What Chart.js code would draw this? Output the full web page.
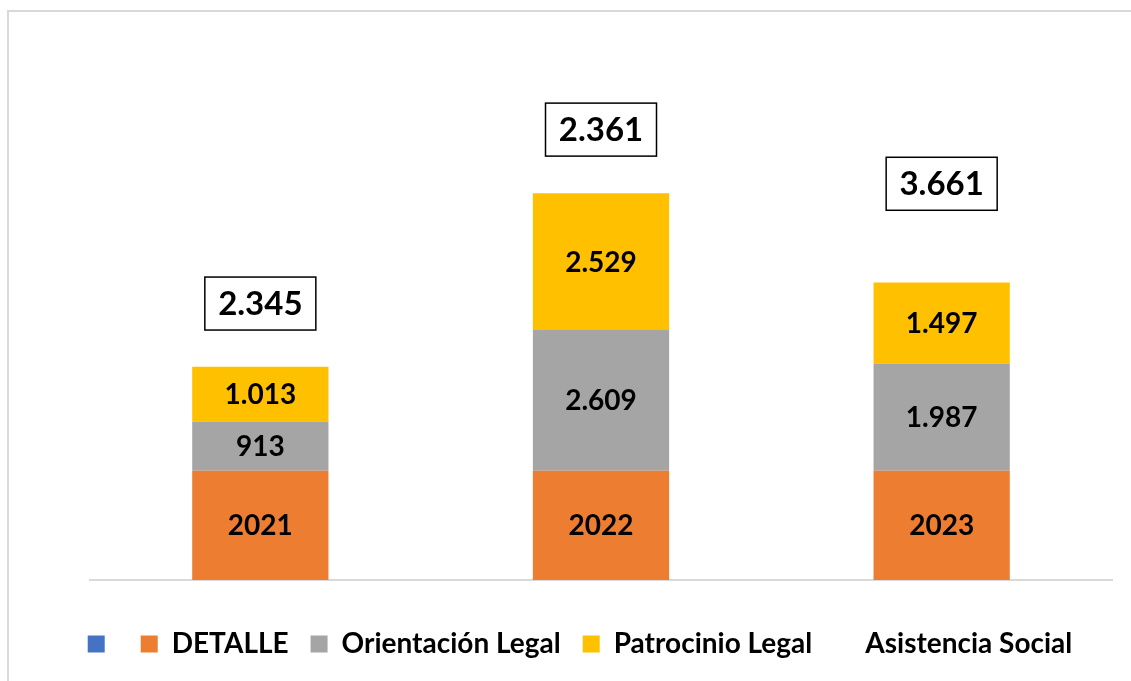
<!DOCTYPE html>
<html>
<head>
<meta charset="utf-8">
<script src="https://cdn.jsdelivr.net/npm/chart.js@4"></script>
<style>
  html, body { margin: 0; padding: 0; background: #fff; }
  #wrap { position: relative; width: 1131px; height: 681px; }
  #frame { position: absolute; left: 7px; top: 10px; right: 0; bottom: 0;
           border-left: 2px solid #d9d9d9; border-top: 2px solid #d9d9d9; }
  canvas { position: absolute; left: 0; top: 0; }
</style>
</head>
<body>
<div id="wrap">
  <div id="frame"></div>
  <canvas id="chart" width="1131" height="681"></canvas>
</div>
<script>
// Chart data
const years = ['2021', '2022', '2023'];
const blank = [0, 0, 0];
const detalle = [2021, 2022, 2023];
const orientacionLegal = [913, 2609, 1987];
const patrocinioLegal = [1013, 2529, 1497];
const asistenciaSocial = [2345, 2361, 3661];

const FONT = 'Lato, "Liberation Sans", sans-serif';

// Spanish style thousands separator: 2345 -> 2.345
function fmt(v) {
  return String(v).replace(/\B(?=(\d{3})+(?!\d))/g, '.');
}

// Draw labels inside the bars and the boxed totals
const barLabels = {
  id: 'barLabels',
  afterDatasetsDraw(chart) {
    const ctx = chart.ctx;
    ctx.save();
    ctx.textAlign = 'center';
    ctx.textBaseline = 'middle';
    chart.data.datasets.forEach((ds, i) => {
      if (i === 0) return;
      const meta = chart.getDatasetMeta(i);
      meta.data.forEach((bar, j) => {
        const v = ds.data[j];
        const cy = (bar.y + bar.base) / 2;
        if (i === 4) {
          const w = 111, h = 53;
          ctx.fillStyle = '#ffffff';
          ctx.fillRect(bar.x - w / 2, cy - h / 2, w, h);
          ctx.strokeStyle = '#000000';
          ctx.lineWidth = 1.5;
          ctx.strokeRect(bar.x - w / 2, cy - h / 2, w, h);
          ctx.font = 'bold 33px ' + FONT;
          ctx.fillStyle = '#000000';
          ctx.fillText(fmt(v), bar.x, cy + 1);
        } else {
          ctx.font = 'bold 28px ' + FONT;
          ctx.fillStyle = '#000000';
          ctx.fillText(i === 1 ? String(v) : fmt(v), bar.x, cy + 1);
        }
      });
    });
    ctx.restore();
  }
};

new Chart(document.getElementById('chart'), {
  type: 'bar',
  data: {
    labels: years,
    datasets: [
      { label: '', data: blank, backgroundColor: '#4472C4' },
      { label: 'DETALLE', data: detalle, backgroundColor: '#ED7D31' },
      { label: 'Orientación Legal', data: orientacionLegal, backgroundColor: '#A5A5A5' },
      { label: 'Patrocinio Legal', data: patrocinioLegal, backgroundColor: '#FFC000' },
      { label: 'Asistencia Social', data: asistenciaSocial, backgroundColor: 'rgba(0,0,0,0)' }
    ]
  },
  options: {
    responsive: false,
    animation: false,
    layout: { padding: { left: 48, right: 19, top: 40, bottom: 13 } },
    datasets: { bar: { barPercentage: 0.4, categoryPercentage: 1.0, borderWidth: 0 } },
    plugins: {
      tooltip: { enabled: false },
      legend: {
        position: 'bottom',
        labels: {
          color: '#000000',
          boxWidth: 17,
          boxHeight: 17,
          padding: 22,
          font: { family: FONT, size: 28, weight: 'bold' }
        }
      }
    },
    scales: {
      x: {
        stacked: true,
        grid: { display: false, drawTicks: false },
        ticks: { display: false },
        border: { display: true, color: '#d9d9d9', width: 2 },
        afterFit(scale) { scale.height = 28; }
      },
      y: {
        stacked: true,
        min: 0,
        max: 10000,
        grid: { display: false, drawTicks: false },
        ticks: { display: false },
        border: { display: false },
        afterFit(scale) { scale.width = 42; }
      }
    }
  },
  plugins: [barLabels]
});
</script>
</body>
</html>
